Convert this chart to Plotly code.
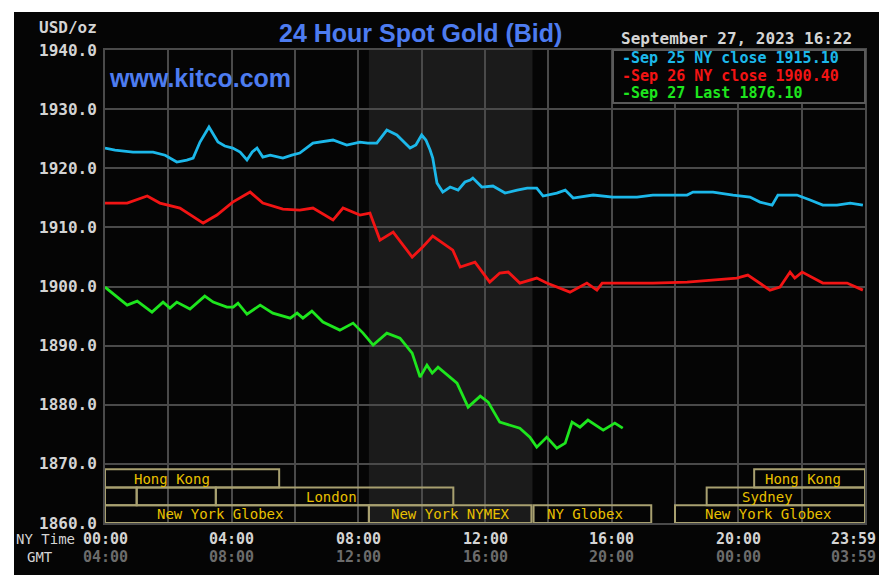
import plotly.graph_objects as go

# ---------------- data (NY time in minutes since 00:00, price USD/oz) ----------------
sep25_t = [0, 19, 53, 91, 114, 136, 155, 167, 180, 197, 214, 227, 242, 256, 269, 279, 288, 299,
           313, 337, 354, 369, 394, 432, 458, 483, 498, 515, 534, 553, 578, 589, 600, 608, 616,
           621, 629, 640, 654, 669, 682, 692, 697, 714, 735, 758, 781, 800, 818, 830, 856, 872,
           887, 925, 962, 1008, 1038, 1103, 1114, 1152, 1190, 1222, 1241, 1264, 1275, 1311, 1336,
           1360, 1387, 1412, 1436]
sep25_v = [1923.42, 1923.08, 1922.74, 1922.74, 1922.2, 1921.05, 1921.39, 1921.73, 1924.43, 1926.97,
           1924.43, 1923.76, 1923.42, 1922.74, 1921.39, 1922.74, 1923.42, 1921.90, 1922.23, 1921.73,
           1922.23, 1922.57, 1924.26, 1924.77, 1923.93, 1924.43, 1924.26, 1924.26, 1926.46, 1925.62,
           1923.42, 1923.93, 1925.62, 1924.77, 1923.08, 1921.73, 1917.50, 1915.97, 1916.82, 1916.31,
           1917.67, 1918.0, 1918.34, 1916.82, 1916.99, 1915.80, 1916.31, 1916.65, 1916.65, 1915.30,
           1915.80, 1916.31, 1914.96, 1915.47, 1915.13, 1915.13, 1915.47, 1915.47, 1915.97, 1915.97,
           1915.47, 1915.13, 1914.28, 1913.77, 1915.47, 1915.47, 1914.62, 1913.77, 1913.77, 1914.11,
           1913.77]

sep26_t = [0, 42, 80, 104, 142, 186, 212, 242, 275, 299, 337, 369, 394, 432, 451, 483, 502, 521,
           546, 582, 602, 621, 659, 673, 701, 729, 748, 764, 786, 818, 837, 881, 913, 932, 942,
           989, 1038, 1103, 1152, 1197, 1218, 1260, 1279, 1298, 1307, 1321, 1360, 1406, 1436]
sep26_v = [1914.11, 1914.11, 1915.30, 1914.11, 1913.27, 1910.73, 1912.08, 1914.28, 1915.97, 1914.11,
           1913.10, 1912.93, 1913.27, 1911.24, 1913.27, 1912.08, 1912.42, 1907.85, 1909.21, 1904.98,
           1906.67, 1908.53, 1906.16, 1903.28, 1904.13, 1900.75, 1902.27, 1902.44, 1900.58, 1901.42,
           1900.58, 1899.05, 1900.58, 1899.39, 1900.58, 1900.58, 1900.58, 1900.75, 1901.08, 1901.42,
           1901.93, 1899.39, 1899.90, 1902.44, 1901.42, 1902.44, 1900.58, 1900.58, 1899.39]

sep27_t = [0, 42, 61, 89, 110, 123, 136, 161, 189, 205, 231, 243, 252, 269, 294, 318, 351, 364,
           375, 392, 413, 445, 470, 489, 508, 534, 559, 582, 597, 610, 620, 631, 667, 688, 711,
           726, 748, 767, 786, 805, 818, 837, 856, 872, 885, 900, 915, 944, 966, 981]
sep27_v = [1899.90, 1896.85, 1897.53, 1895.67, 1897.36, 1896.35, 1897.36, 1896.18, 1898.38, 1897.36,
           1896.52, 1896.52, 1897.19, 1895.33, 1896.85, 1895.50, 1894.65, 1895.50, 1894.65, 1895.84,
           1893.98, 1892.62, 1893.81, 1892.12, 1890.09, 1892.12, 1891.27, 1888.73, 1884.67, 1886.70,
           1885.35, 1886.36, 1883.66, 1879.60, 1881.46, 1880.44, 1877.06, 1876.55, 1876.04, 1874.52,
           1872.83, 1874.52, 1872.66, 1873.50, 1877.06, 1876.21, 1877.40, 1875.70, 1876.89, 1876.04]

legend_labels = ["Sep 25 NY close 1915.10", "Sep 26 NY close 1900.40", "Sep 27 Last 1876.10"]

ny_ticks = ["00:00", "04:00", "08:00", "12:00", "16:00", "20:00", "23:59"]
gmt_ticks = ["04:00", "08:00", "12:00", "16:00", "20:00", "00:00", "03:59"]
tick_minutes = [0, 240, 480, 720, 960, 1200, 1439]

y_ticks = [1860, 1870, 1880, 1890, 1900, 1910, 1920, 1930, 1940]

# trading sessions: name, start minute, end minute, row (1 = top)
session_names = ["Hong Kong", "Hong Kong", "", "", "London", "Sydney",
                 "New York Globex", "New York NYMEX", "NY Globex", "New York Globex"]
session_start = [0, 1230, 0, 60, 210, 1140, 0, 500, 812, 1080]
session_end = [330, 1440, 60, 210, 660, 1440, 500, 808, 1035, 1440]
session_row = [1, 1, 2, 2, 2, 2, 3, 3, 3, 3]
nymex_start, nymex_end = 500, 810

# ---------------- styling / layout ----------------
CYAN, RED, GREEN = "#1cb8ea", "#f21414", "#1ee61e"
GRID = "#4a4a4a"
BLUE = "#4d7cf0"
MONO = "DejaVu Sans Mono"
LIGHT = "#d4d4d4"
DIM = "#6c6c6c"
YEL = "#e8c000"
BOX = "#a8a070"

# label x positions (minutes) for session names
session_label_x = [127, 1322, None, None, 430, 1256, 218, 654, 909, 1256]
row_bounds = {1: (1866.0, 1869.1), 2: (1863.0, 1866.0), 3: (1860.0, 1863.0)}

L, R, T, B = 105, 865, 50, 523
W, H = 892, 587


def px(xp):
    return (xp - L) / (R - L)


def py(yp):
    return (B - yp) / (B - T)


fig = go.Figure()
for t, v, c in [(sep25_t, sep25_v, CYAN), (sep26_t, sep26_v, RED), (sep27_t, sep27_v, GREEN)]:
    fig.add_trace(go.Scatter(x=t, y=v, mode="lines", line=dict(color=c, width=2.8),
                             showlegend=False, hoverinfo="skip"))

shapes = []
# black outer panel
shapes.append(dict(type="rect", xref="paper", yref="paper", x0=px(14), x1=px(879), y0=py(575), y1=py(12),
                   fillcolor="#050505", line=dict(width=0), layer="below"))
# NYMEX shading
shapes.append(dict(type="rect", xref="x", yref="paper", x0=nymex_start, x1=nymex_end, y0=0, y1=1,
                   fillcolor="#1b1b1b", line=dict(width=0), layer="below"))
# session boxes
for name, s, e, r in zip(session_names, session_start, session_end, session_row):
    y0, y1 = row_bounds[r]
    shapes.append(dict(type="rect", xref="x", yref="y", x0=s, x1=e, y0=y0, y1=y1,
                       fillcolor="rgba(0,0,0,0)", line=dict(color=BOX, width=2), layer="above"))
# legend box
shapes.append(dict(type="rect", xref="paper", yref="paper", x0=px(613), x1=1.0, y0=py(103), y1=1.0,
                   fillcolor="#050505", line=dict(color="#5a5a5a", width=2), layer="above"))

ann = []
ann.append(dict(text="USD/oz", xref="paper", yref="paper", x=px(99), y=py(28), xanchor="right",
                yanchor="middle", showarrow=False, font=dict(family=MONO, size=16, color=LIGHT, weight="bold")))
ann.append(dict(text="24 Hour Spot Gold (Bid)", xref="paper", yref="paper", x=px(420), y=py(33),
                xanchor="center", yanchor="middle", showarrow=False,
                font=dict(family="Liberation Sans", size=25, color=BLUE, weight="bold")))
ann.append(dict(text="www.kitco.com", xref="paper", yref="paper", x=px(107), y=py(78),
                xanchor="left", yanchor="middle", showarrow=False,
                font=dict(family="Liberation Sans", size=25, color=BLUE, weight="bold")))
ann.append(dict(text="September 27, 2023 16:22", xref="paper", yref="paper", x=px(619), y=py(39),
                xanchor="left", yanchor="middle", showarrow=False,
                font=dict(family=MONO, size=16, color=LIGHT, weight="bold")))
for lab, c, yy in zip(legend_labels, [CYAN, RED, GREEN], [58, 75.5, 93]):
    ann.append(dict(text="-" + lab, xref="paper", yref="paper", x=px(620), y=py(yy),
                    xanchor="left", yanchor="middle", showarrow=False,
                    font=dict(family=MONO, size=15, color=c, weight="bold")))
for name, lx, r in zip(session_names, session_label_x, session_row):
    if name:
        y0, y1 = row_bounds[r]
        ann.append(dict(text=name, xref="x", yref="y", x=lx, y=(y0 + y1) / 2 - 0.05,
                        xanchor="center", yanchor="middle", showarrow=False,
                        font=dict(family=MONO, size=14, color=YEL)))
ann.append(dict(text="NY Time", xref="paper", yref="paper", x=px(46), y=py(539), xanchor="center",
                yanchor="middle", showarrow=False, font=dict(family=MONO, size=14, color=LIGHT)))
ann.append(dict(text="GMT", xref="paper", yref="paper", x=px(40), y=py(557), xanchor="center",
                yanchor="middle", showarrow=False, font=dict(family=MONO, size=14, color=LIGHT)))
for i, (m, a, g) in enumerate(zip(tick_minutes, ny_ticks, gmt_ticks)):
    xx = m if i < len(tick_minutes) - 1 else 1418
    ann.append(dict(text=a, xref="x", yref="paper", x=xx, y=py(539), xanchor="center", yanchor="middle",
                    showarrow=False, font=dict(family=MONO, size=15, color=LIGHT, weight="bold")))
    ann.append(dict(text=g, xref="x", yref="paper", x=xx, y=py(557), xanchor="center", yanchor="middle",
                    showarrow=False, font=dict(family=MONO, size=15, color=DIM, weight="bold")))

fig.update_layout(
    width=W, height=H,
    margin=dict(l=L, r=W - R, t=T, b=H - B),
    paper_bgcolor="white", plot_bgcolor="#050505",
    shapes=shapes, annotations=ann,
    xaxis=dict(range=[0, 1440], dtick=120, tick0=0, showticklabels=False, showgrid=True,
               gridcolor=GRID, gridwidth=2, zeroline=False, showline=True, linecolor=GRID,
               linewidth=2, mirror=True, ticks=""),
    yaxis=dict(range=[1860, 1940], tickvals=y_ticks, ticktext=[f"{v:.1f}" for v in y_ticks],
               showgrid=True, gridcolor=GRID, gridwidth=2, zeroline=False, showline=True,
               linecolor=GRID, linewidth=2, mirror=True, ticks="", ticklabelstandoff=3,
               tickfont=dict(family=MONO, size=16, color=LIGHT, weight="bold")),
)

fig.write_html("out.html")
